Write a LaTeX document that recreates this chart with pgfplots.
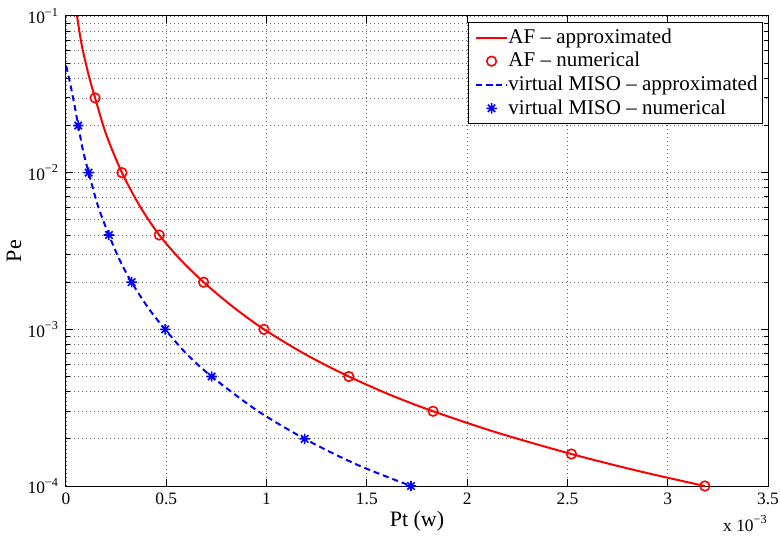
\documentclass[border=0pt]{standalone}
\usepackage{fontspec}
\setmainfont{Liberation Serif}
\usepackage{pgfplots}
\usepackage{pgfplotstable}
\pgfplotsset{compat=1.18}

\pgfdeclareplotmark{mstar}{%
  \pgfpathmoveto{\pgfqpoint{-\pgfplotmarksize}{0pt}}\pgfpathlineto{\pgfqpoint{\pgfplotmarksize}{0pt}}%
  \pgfpathmoveto{\pgfqpoint{0pt}{-\pgfplotmarksize}}\pgfpathlineto{\pgfqpoint{0pt}{\pgfplotmarksize}}%
  \pgfpathmoveto{\pgfqpoint{-0.707\pgfplotmarksize}{-0.707\pgfplotmarksize}}\pgfpathlineto{\pgfqpoint{0.707\pgfplotmarksize}{0.707\pgfplotmarksize}}%
  \pgfpathmoveto{\pgfqpoint{-0.707\pgfplotmarksize}{0.707\pgfplotmarksize}}\pgfpathlineto{\pgfqpoint{0.707\pgfplotmarksize}{-0.707\pgfplotmarksize}}%
  \pgfusepathqstroke}

\pgfplotstableread{
x y
0.055 0.1
0.068 0.078
0.083 0.061
0.115 0.041
0.145 0.03
0.2 0.0176
0.279 0.01
0.37 0.00606
0.465 0.004
0.57 0.00279
0.686 0.002
0.83 0.0014
0.987 0.001
1.2 0.000685
1.41 0.0005
1.62 0.00038
1.83 0.0003
2.15 0.000219
2.52 0.00016
2.85 0.000125
3.185 0.0001
}\afapprox

\pgfplotstableread{
x y
0.145 0.03
0.279 0.01
0.465 0.004
0.686 0.002
0.987 0.001
1.41 0.0005
1.83 0.0003
2.52 0.00016
3.185 0.0001
}\afnum

\pgfplotstableread{
x y
0.001 0.048
0.02 0.0375
0.04 0.028
0.061 0.02
0.085 0.0138
0.113 0.01
0.16 0.0061
0.214 0.004
0.27 0.00273
0.327 0.002
0.41 0.00137
0.494 0.001
0.6 0.0007
0.726 0.0005
0.95 0.000305
1.19 0.0002
1.45 0.000137
1.72 0.0001
}\misoapprox

\pgfplotstableread{
x y
0.061 0.02
0.113 0.01
0.214 0.004
0.327 0.002
0.494 0.001
0.726 0.0005
1.19 0.0002
1.72 0.0001
}\misonum

\begin{document}
\begin{tikzpicture}
\begin{axis}[
  width=351pt, height=235pt, scale only axis,
  xmin=0, xmax=3.5,
  ymode=log, ymin=1e-4, ymax=1e-1,
  xtick={0,0.5,1,1.5,2,2.5,3,3.5},
  xticklabels={0,0.5,1,1.5,2,2.5,3,3.5},
  ytick={1e-4,1e-3,1e-2,1e-1},
  yticklabels={10\textsuperscript{−4},10\textsuperscript{−3},10\textsuperscript{−2},10\textsuperscript{−1}},
  minor ytick={2e-4,3e-4,4e-4,5e-4,6e-4,7e-4,8e-4,9e-4,2e-3,3e-3,4e-3,5e-3,6e-3,7e-3,8e-3,9e-3,2e-2,3e-2,4e-2,5e-2,6e-2,7e-2,8e-2,9e-2},
  grid=both,
  major grid style={black!60, line width=0.4pt, dash pattern=on 0.5pt off 1.5pt},
  minor grid style={black!60, line width=0.4pt, dash pattern=on 0.5pt off 1.5pt},
  tick align=inside, tick pos=both,
  major tick length=3.5pt, minor tick length=2pt,
  every tick/.style={black, line width=0.5pt},
  axis line style={black, line width=0.5pt},
  ticklabel style={font=\fontsize{8.7}{10}\selectfont},
  xlabel={Pt (w)}, ylabel={Pe},
  label style={font=\fontsize{11}{13}\selectfont},
  xlabel style={at={(axis description cs:0.5,-0.0745)}, anchor=center},
  ylabel style={at={(axis description cs:-0.074,0.5)}, anchor=center},
  legend image code/.code={%
    \node[inner sep=0pt, outer sep=0pt, minimum size=0pt, draw=none, fill=none] at (-0.035cm,0cm) {};
    \draw[mark repeat=2,mark phase=2,#1] plot coordinates {(0cm,0cm) (0.28cm,0cm) (0.56cm,0cm)};},
  legend style={at={(axis description cs:0.9929,0.987)}, anchor=north east,
    font=\fontsize{10.5}{12}\selectfont, draw=black, line width=0.5pt, fill=white,
    inner xsep=2.5pt, inner ysep=1.6pt, nodes={inner xsep=0pt, inner ysep=1.5pt},
    every odd column/.append style={column sep=2.5pt}},
  legend cell align=left,
  clip mode=individual,
]
\addplot[red, line width=1pt, smooth] table[x=x,y=y]{\afapprox};
\addlegendentry{AF – approximated}
\addplot[red, only marks, mark=o, mark size=2.4pt, line width=0.8pt] table[x=x,y=y]{\afnum};
\addlegendentry{AF – numerical}
\addplot[blue, line width=1pt, dash pattern=on 3pt off 2pt, smooth] table[x=x,y=y]{\misoapprox};
\addlegendentry{virtual MISO – approximated}
\addplot[blue, only marks, mark=mstar, mark size=2.6pt, line width=0.8pt] table[x=x,y=y]{\misonum};
\addlegendentry{virtual MISO – numerical}
\coordinate (sw) at (rel axis cs:0,0);
\coordinate (ne) at (rel axis cs:1,1);
\node[anchor=north east, inner sep=0pt, font=\fontsize{8.7}{10}\selectfont] at (rel axis cs:1,0) [yshift=-14.5pt] {x 10\textsuperscript{−3}};
\end{axis}
\pgfresetboundingbox
\path ([xshift=-33pt,yshift=-24.5pt]sw) rectangle ([xshift=6pt,yshift=8pt]ne);
\end{tikzpicture}
\end{document}
